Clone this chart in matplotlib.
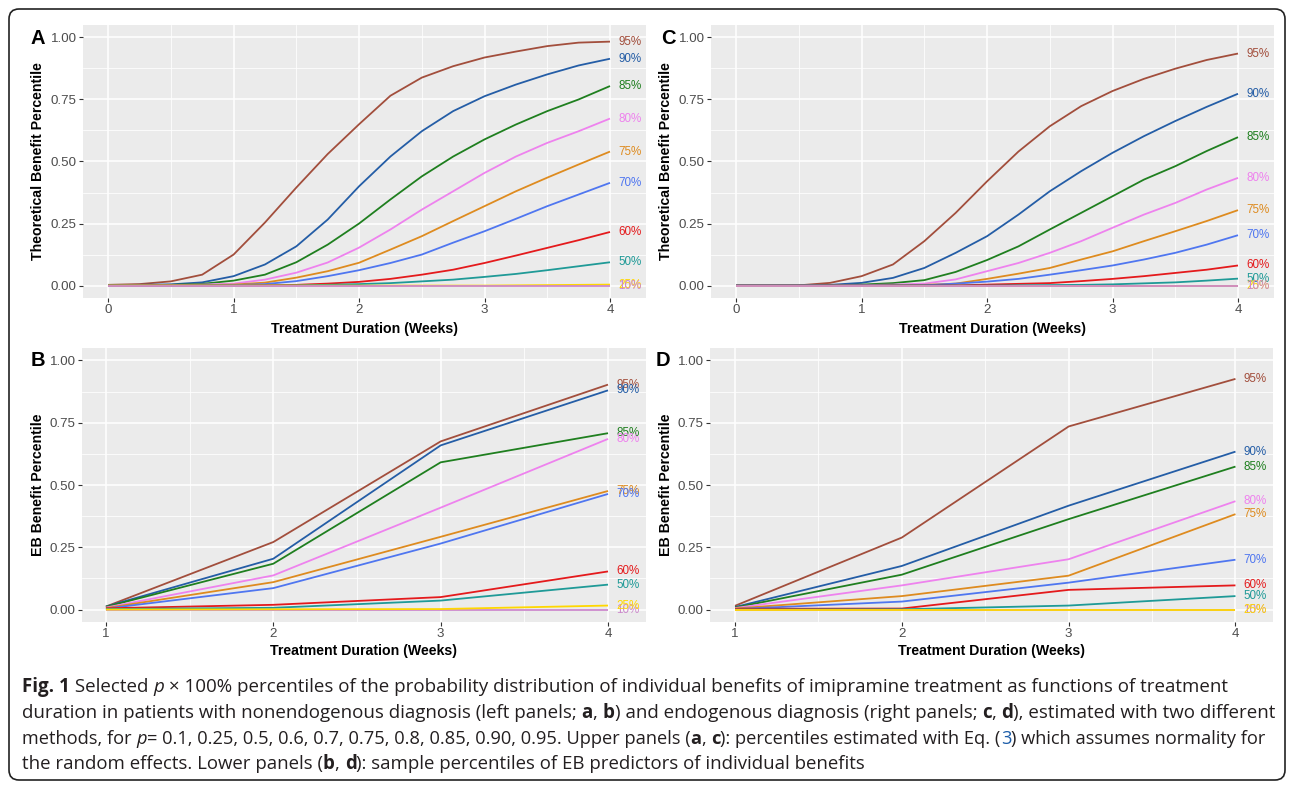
import matplotlib
matplotlib.use("Agg")
import matplotlib.pyplot as plt
from matplotlib.patches import FancyBboxPatch

W, H = 1292, 785
DPI = 100

# ---------------- data ----------------
pct_labels = ["95%", "90%", "85%", "80%", "75%", "70%", "60%", "50%", "25%", "10%"]
pct_colors = ["#A24E3C", "#245DA6", "#1F7F1F", "#EE82EE", "#DE8B1F",
              "#4F76F0", "#E41A1C", "#1F9A97", "#FFD700", "#CC88CC"]

weeks_theo = [0, 0.25, 0.5, 0.75, 1, 1.25, 1.5, 1.75, 2, 2.25, 2.5, 2.75, 3, 3.25, 3.5, 3.75, 4]
weeks_eb = [1, 2, 3, 4]

# Panel A: theoretical percentiles, nonendogenous
theo_nonendo = [
    [0.003, 0.006, 0.017, 0.044, 0.125, 0.254, 0.395, 0.530, 0.650, 0.765, 0.838, 0.884, 0.919, 0.943, 0.965, 0.979, 0.983],
    [0.002, 0.003, 0.005, 0.013, 0.038, 0.085, 0.158, 0.266, 0.400, 0.520, 0.622, 0.703, 0.763, 0.810, 0.851, 0.887, 0.914],
    [0.001, 0.002, 0.003, 0.007, 0.020, 0.044, 0.094, 0.165, 0.250, 0.347, 0.440, 0.520, 0.589, 0.649, 0.703, 0.750, 0.804],
    [0.000, 0.001, 0.002, 0.004, 0.008, 0.024, 0.052, 0.093, 0.153, 0.226, 0.306, 0.380, 0.454, 0.520, 0.575, 0.622, 0.673],
    [0.000, 0.000, 0.001, 0.002, 0.004, 0.012, 0.032, 0.058, 0.092, 0.145, 0.199, 0.260, 0.320, 0.380, 0.435, 0.488, 0.540],
    [0.000, 0.000, 0.000, 0.001, 0.002, 0.006, 0.018, 0.038, 0.062, 0.091, 0.125, 0.173, 0.219, 0.269, 0.320, 0.367, 0.414],
    [0.000, 0.000, 0.000, 0.000, 0.000, 0.001, 0.003, 0.008, 0.015, 0.027, 0.044, 0.064, 0.091, 0.121, 0.152, 0.183, 0.216],
    [0.000, 0.000, 0.000, 0.000, 0.000, 0.000, 0.001, 0.003, 0.006, 0.010, 0.017, 0.024, 0.035, 0.047, 0.062, 0.078, 0.094],
    [0.000, 0.000, 0.000, 0.000, 0.000, 0.000, 0.000, 0.000, 0.000, 0.000, 0.000, 0.000, 0.000, 0.001, 0.002, 0.003, 0.004],
    [0.000, 0.000, 0.000, 0.000, 0.000, 0.000, 0.000, 0.000, 0.000, 0.000, 0.000, 0.000, 0.000, 0.000, 0.000, 0.000, 0.000],
]

# Panel C: theoretical percentiles, endogenous
theo_endo = [
    [0.000, 0.000, 0.001, 0.011, 0.038, 0.085, 0.179, 0.293, 0.420, 0.540, 0.642, 0.723, 0.784, 0.833, 0.874, 0.909, 0.935],
    [0.000, 0.000, 0.000, 0.003, 0.011, 0.031, 0.071, 0.132, 0.199, 0.286, 0.380, 0.461, 0.535, 0.602, 0.663, 0.720, 0.773],
    [0.000, 0.000, 0.000, 0.001, 0.004, 0.010, 0.022, 0.055, 0.103, 0.158, 0.226, 0.293, 0.360, 0.427, 0.481, 0.542, 0.598],
    [0.000, 0.000, 0.000, 0.000, 0.002, 0.004, 0.008, 0.025, 0.058, 0.091, 0.132, 0.179, 0.233, 0.286, 0.333, 0.387, 0.434],
    [0.000, 0.000, 0.000, 0.000, 0.000, 0.001, 0.003, 0.008, 0.027, 0.048, 0.071, 0.105, 0.138, 0.179, 0.219, 0.260, 0.304],
    [0.000, 0.000, 0.000, 0.000, 0.000, 0.000, 0.001, 0.008, 0.016, 0.027, 0.044, 0.062, 0.081, 0.105, 0.132, 0.165, 0.203],
    [0.000, 0.000, 0.000, 0.000, 0.000, 0.000, 0.000, 0.001, 0.004, 0.007, 0.010, 0.018, 0.027, 0.038, 0.051, 0.064, 0.081],
    [0.000, 0.000, 0.000, 0.000, 0.000, 0.000, 0.000, 0.000, 0.000, 0.001, 0.002, 0.003, 0.005, 0.009, 0.013, 0.020, 0.028],
    [0.000, 0.000, 0.000, 0.000, 0.000, 0.000, 0.000, 0.000, 0.000, 0.000, 0.000, 0.000, 0.000, 0.000, 0.000, 0.000, 0.000],
    [0.000, 0.000, 0.000, 0.000, 0.000, 0.000, 0.000, 0.000, 0.000, 0.000, 0.000, 0.000, 0.000, 0.000, 0.000, 0.000, 0.000],
]

# Panel B: EB sample percentiles, nonendogenous
eb_nonendo = [
    [0.012, 0.271, 0.675, 0.903],
    [0.012, 0.204, 0.659, 0.880],
    [0.011, 0.184, 0.591, 0.708],
    [0.008, 0.137, 0.409, 0.685],
    [0.006, 0.110, 0.292, 0.476],
    [0.004, 0.086, 0.265, 0.464],
    [0.005, 0.019, 0.050, 0.153],
    [0.002, 0.007, 0.036, 0.100],
    [0.000, 0.001, 0.002, 0.016],
    [0.000, 0.000, 0.000, 0.000],
]

# Panel D: EB sample percentiles, endogenous
eb_endo = [
    [0.015, 0.289, 0.735, 0.926],
    [0.010, 0.175, 0.417, 0.634],
    [0.008, 0.140, 0.363, 0.574],
    [0.006, 0.097, 0.202, 0.435],
    [0.004, 0.054, 0.136, 0.383],
    [0.002, 0.032, 0.108, 0.200],
    [0.003, 0.004, 0.079, 0.097],
    [0.000, 0.001, 0.016, 0.054],
    [0.000, 0.000, 0.000, 0.000],
    [0.000, 0.000, 0.000, 0.000],
]

y_ticks = [0.0, 0.25, 0.5, 0.75, 1.0]
y_minor = [0.125, 0.375, 0.625, 0.875]
x_title = "Treatment Duration (Weeks)"

# ---------------- figure ----------------
CHART_FONT = "Liberation Sans"
fig = plt.figure(figsize=(W / DPI, H / DPI), dpi=DPI)
fig.patch.set_facecolor("white")

# full-figure pixel overlay for free text / frame
bg = fig.add_axes([0, 0, 1, 1])
bg.set_xlim(0, W)
bg.set_ylim(H, 0)
bg.axis("off")
bg.patch.set_alpha(0)


def px_rect(x0, y0, x1, y1):
    return [x0 / W, 1 - y1 / H, (x1 - x0) / W, (y1 - y0) / H]


panels = [
    dict(rect=(83, 25, 646, 298), x=weeks_theo, data=theo_nonendo, xlim=(-0.2, 4.287),
         xticks=[0, 1, 2, 3, 4], xminor=[0.5, 1.5, 2.5, 3.5],
         ylabel="Theoretical Benefit Percentile", letter="A", letter_xy=(38, 38),
         ylab_x=38, xlab_y=329, order=[0, 1, 2, 3, 4, 5, 6, 7, 8, 9]),
    dict(rect=(711, 25, 1274, 298), x=weeks_theo, data=theo_endo, xlim=(-0.2, 4.287),
         xticks=[0, 1, 2, 3, 4], xminor=[0.5, 1.5, 2.5, 3.5],
         ylabel="Theoretical Benefit Percentile", letter="C", letter_xy=(668, 38),
         ylab_x=666, xlab_y=329, order=[0, 1, 2, 3, 4, 5, 6, 7, 8, 9]),
    dict(rect=(82, 348, 646, 622), x=weeks_eb, data=eb_nonendo, xlim=(0.857, 4.227),
         xticks=[1, 2, 3, 4], xminor=[1.5, 2.5, 3.5],
         ylabel="EB Benefit Percentile", letter="B", letter_xy=(38, 361),
         ylab_x=38, xlab_y=651, order=[0, 1, 2, 3, 4, 5, 6, 7, 9, 8]),
    dict(rect=(710, 348, 1273, 622), x=weeks_eb, data=eb_endo, xlim=(0.85, 4.225),
         xticks=[1, 2, 3, 4], xminor=[1.5, 2.5, 3.5],
         ylabel="EB Benefit Percentile", letter="D", letter_xy=(663, 361),
         ylab_x=666, xlab_y=651, order=[0, 1, 2, 3, 4, 5, 6, 7, 9, 8]),
]

for p in panels:
    x0, y0, x1, y1 = p["rect"]
    ax = fig.add_axes(px_rect(x0, y0, x1, y1))
    ax.set_facecolor("#EBEBEB")
    for s in ax.spines.values():
        s.set_visible(False)
    ax.set_xlim(*p["xlim"])
    ax.set_ylim(-0.05, 1.05)
    ax.set_xticks(p["xticks"])
    ax.set_xticks(p["xminor"], minor=True)
    ax.set_yticks(y_ticks)
    ax.set_yticks(y_minor, minor=True)
    ax.set_yticklabels(["%.2f" % v for v in y_ticks])
    ax.set_xticklabels([str(v) for v in p["xticks"]])
    ax.grid(True, which="major", color="white", lw=1.1)
    ax.grid(True, which="minor", color="white", lw=0.55)
    ax.set_axisbelow(True)
    ax.tick_params(which="major", direction="out", length=3.0, width=0.8, color="#333333",
                   labelsize=9.6, labelcolor="#4D4D4D", pad=1.6)
    ax.tick_params(which="minor", length=0)
    for lab in ax.get_xticklabels() + ax.get_yticklabels():
        lab.set_fontfamily(CHART_FONT)

    for i in p["order"]:
        vals = p["data"][i]
        ax.plot(p["x"], vals, color=pct_colors[i], lw=1.3, solid_capstyle="butt",
                solid_joinstyle="round", zorder=3)
    for i in p["order"]:
        vals = p["data"][i]
        ax.annotate(pct_labels[i], xy=(p["x"][-1], vals[-1]), xytext=(5.8, 0),
                    textcoords="offset points", ha="left", va="center",
                    fontsize=8.4, color=pct_colors[i], family=CHART_FONT,
                    annotation_clip=False, zorder=4)

    # axis titles and panel letter
    bg.text((x0 + x1) / 2, p["xlab_y"], x_title, ha="center", va="center",
            fontsize=10.2, fontweight="bold", family=CHART_FONT, color="black")
    bg.text(p["ylab_x"], (y0 + y1) / 2, p["ylabel"], ha="center", va="center",
            rotation=90, fontsize=10.2, fontweight="bold", family=CHART_FONT, color="black")
    bg.text(p["letter_xy"][0], p["letter_xy"][1], p["letter"], ha="center", va="center",
            fontsize=14.5, fontweight="bold", family=CHART_FONT, color="black")

# frame
frame = FancyBboxPatch((9, 9), 1276, 771, boxstyle="round,pad=0,rounding_size=10",
                       fill=False, ec="#222222", lw=1.2, clip_on=False)
bg.add_patch(frame)

# ---------------- caption ----------------
CAP_FONT = "Open Sans"
TXT = "#231F20"
LINK = "#1B5CA8"
reg = dict(family=CAP_FONT, color=TXT)
bold = dict(family=CAP_FONT, color=TXT, fontweight="bold")
ital = dict(family=CAP_FONT, color=TXT, style="italic")
link = dict(family=CAP_FONT, color=LINK)

caption_lines = [
    [("Fig. 1", bold), (" Selected ", reg), ("p", ital),
     (" \u00d7 100% percentiles of the probability distribution of individual benefits of imipramine treatment as functions of treatment", reg)],
    [("duration in patients with nonendogenous diagnosis (left panels; ", reg), ("a", bold), (", ", reg),
     ("b", bold), (") and endogenous diagnosis (right panels; ", reg), ("c", bold), (", ", reg),
     ("d", bold), ("), estimated with two different", reg)],
    [("methods, for ", reg), ("p", ital),
     ("= 0.1, 0.25, 0.5, 0.6, 0.7, 0.75, 0.8, 0.85, 0.90, 0.95. Upper panels (", reg),
     ("a", bold), (", ", reg), ("c", bold), ("): percentiles estimated with Eq. (", reg),
     ("3", link), (") which assumes normality for", reg)],
    [("the random effects. Lower panels (", reg), ("b", bold), (", ", reg), ("d", bold),
     ("): sample percentiles of EB predictors of individual benefits", reg)],
]
cap_baselines = [692, 718, 744, 769]
cap_left = 22
cap_targets = [1200, 1250, 1240, None]  # line widths in the reference (last line: natural)

fig.canvas.draw()
renderer = fig.canvas.get_renderer()


def seg_width(txt, props, size):
    t = bg.text(0, 0, txt + "|", fontsize=size, **props)
    s = bg.text(0, 0, "|", fontsize=size, **props)
    w = t.get_window_extent(renderer).width - s.get_window_extent(renderer).width
    t.remove()
    s.remove()
    return w


base_size = 12.0
sizes = []
for line, tgt in zip(caption_lines, cap_targets):
    if tgt is None:
        sizes.append(sum(sizes) / len(sizes))
    else:
        w = sum(seg_width(t, pr, base_size) for t, pr in line)
        sizes.append(base_size * tgt / w)

for line, yb, sz in zip(caption_lines, cap_baselines, sizes):
    x = cap_left
    for txt, pr in line:
        bg.text(x, yb, txt, fontsize=sz, ha="left", va="baseline", **pr)
        x += seg_width(txt, pr, sz)

fig.savefig("out.png", dpi=DPI, facecolor="white")
